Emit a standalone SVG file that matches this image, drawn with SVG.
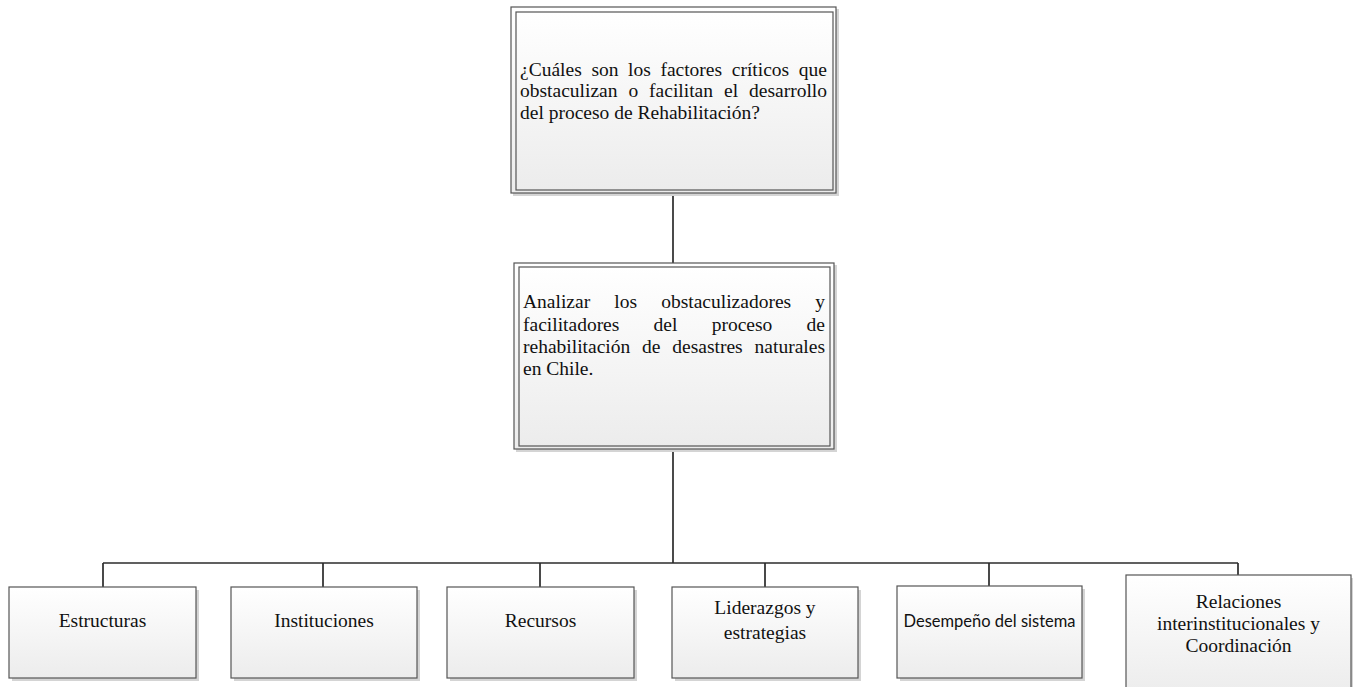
<svg xmlns="http://www.w3.org/2000/svg" width="1353" height="687" viewBox="0 0 1353 687">
<style>
.t{font-family:"Liberation Serif","Times New Roman",serif;font-size:19.5px;fill:#111}
.c{text-anchor:middle}
.s{font-family:"Lato","Liberation Sans",sans-serif;font-size:16.5px;fill:#111;text-anchor:middle}
.box{fill:url(#g);stroke:#555;stroke-width:1.2}
.sh{fill:#d4d4d4}
.ln{fill:none;stroke:#2b2b2b;stroke-width:1.7}
</style>
<defs>
<linearGradient id="g" x1="0" y1="0" x2="0" y2="1">
<stop offset="0" stop-color="#ffffff"/>
<stop offset="1" stop-color="#ececec"/>
</linearGradient>
</defs>
<rect width="1353" height="687" fill="#ffffff"/>
<g id="connectors">
<path class="ln" d="M673 193V263"/>
<path class="ln" d="M673 449V563" stroke-width="2.6"/>
<path class="ln" d="M103 563H1238"/>
<path class="ln" d="M103 563V587M323 563V587M540 563V587M765 563V587M989 563V586M1238 563V575"/>
</g>
<g id="q">
<rect class="sh" x="513" y="9" width="326" height="187"/>
<rect class="box" x="511" y="7" width="325" height="186"/>
<rect class="box" x="516" y="12" width="317" height="178"/>
<text class="t" y="76"><tspan x="520">¿Cuáles</tspan><tspan x="591.4">son</tspan><tspan x="628.1">los</tspan><tspan x="660.4">factores</tspan><tspan x="731.8">críticos</tspan><tspan x="827" text-anchor="end">que</tspan></text>
<text class="t" y="97"><tspan x="520">obstaculizan</tspan><tspan x="628.4">o</tspan><tspan x="649.1">facilitan</tspan><tspan x="724">el</tspan><tspan x="827" text-anchor="end">desarrollo</tspan></text>
<text class="t" x="520" y="119">del proceso de Rehabilitación?</text>
</g>
<g id="obj">
<rect class="sh" x="516" y="265" width="321" height="187"/>
<rect class="box" x="514" y="263" width="320" height="186"/>
<rect class="box" x="519" y="267" width="311" height="179"/>
<text class="t" y="308"><tspan x="523">Analizar</tspan><tspan x="614.3">los</tspan><tspan x="661.2">obstaculizadores</tspan><tspan x="825" text-anchor="end">y</tspan></text>
<text class="t" y="331"><tspan x="523">facilitadores</tspan><tspan x="653.6">del</tspan><tspan x="711.7">proceso</tspan><tspan x="825" text-anchor="end">de</tspan></text>
<text class="t" y="353"><tspan x="523">rehabilitación</tspan><tspan x="642.1">de</tspan><tspan x="672.3">desastres</tspan><tspan x="825" text-anchor="end">naturales</tspan></text>
<text class="t" x="523" y="375">en Chile.</text>
</g>
<g id="n1">
<rect class="sh" x="12" y="590" width="187" height="91"/>
<rect class="box" x="9" y="587" width="187" height="91"/>
<text class="t c" x="102.5" y="627">Estructuras</text>
</g>
<g id="n2">
<rect class="sh" x="234" y="590" width="186" height="91"/>
<rect class="box" x="231" y="587" width="186" height="91"/>
<text class="t c" x="324" y="627">Instituciones</text>
</g>
<g id="n3">
<rect class="sh" x="450" y="590" width="187" height="91"/>
<rect class="box" x="447" y="587" width="187" height="91"/>
<text class="t c" x="540.5" y="627">Recursos</text>
</g>
<g id="n4">
<rect class="sh" x="675" y="590" width="186" height="91"/>
<rect class="box" x="672" y="587" width="186" height="91"/>
<text class="t c" x="765" y="614">Liderazgos y</text>
<text class="t c" x="765" y="639">estrategias</text>
</g>
<g id="n5">
<rect class="sh" x="900" y="589" width="185" height="92"/>
<rect class="box" x="897" y="586" width="185" height="92"/>
<text class="s" x="989.5" y="627">Desempeño del sistema</text>
</g>
<g id="n6">
<rect class="sh" x="1129" y="578" width="225" height="120"/>
<rect class="box" x="1126" y="575" width="225" height="120"/>
<text class="t c" x="1238.5" y="608">Relaciones</text>
<text class="t c" x="1238.5" y="630">interinstitucionales y</text>
<text class="t c" x="1238.5" y="652">Coordinación</text>
</g>
</svg>
